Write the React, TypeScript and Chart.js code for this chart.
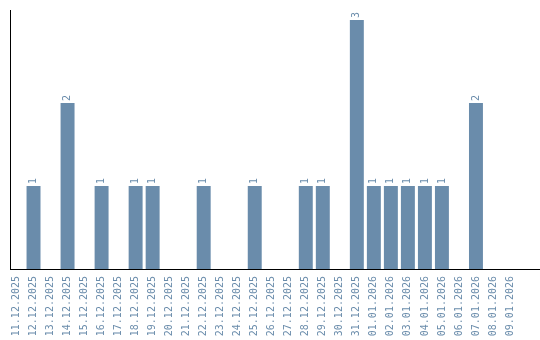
import React, { useEffect, useRef } from "react";
import { Chart, registerables } from "chart.js";

Chart.register(...registerables);

const categories = [
  "11.12.2025", "12.12.2025", "13.12.2025", "14.12.2025", "15.12.2025",
  "16.12.2025", "17.12.2025", "18.12.2025", "19.12.2025", "20.12.2025",
  "21.12.2025", "22.12.2025", "23.12.2025", "24.12.2025", "25.12.2025",
  "26.12.2025", "27.12.2025", "28.12.2025", "29.12.2025", "30.12.2025",
  "31.12.2025", "01.01.2026", "02.01.2026", "03.01.2026", "04.01.2026",
  "05.01.2026", "06.01.2026", "07.01.2026", "08.01.2026", "09.01.2026",
];

const counts = [
  0, 1, 0, 2, 0,
  1, 0, 1, 1, 0,
  0, 1, 0, 0, 1,
  0, 0, 1, 1, 0,
  3, 1, 1, 1, 1,
  1, 0, 2, 0, 0,
];

const BAR_COLOR = "#6a8cab";
const FONT = "'DejaVu Sans Mono', monospace";

const valueLabels = {
  id: "valueLabels",
  afterDatasetsDraw(chart: any) {
    const ctx = chart.ctx;
    const meta = chart.getDatasetMeta(0);
    ctx.save();
    ctx.fillStyle = BAR_COLOR;
    ctx.font = `10px ${FONT}`;
    ctx.textAlign = "left";
    ctx.textBaseline = "middle";
    meta.data.forEach((bar: any, i: number) => {
      const v = counts[i];
      if (!v) return;
      ctx.save();
      ctx.translate(bar.x, bar.y - 2);
      ctx.rotate(-Math.PI / 2);
      ctx.fillText(String(v), 0, 0);
      ctx.restore();
    });
    ctx.restore();
  },
};

const axisLines = {
  id: "axisLines",
  afterDraw(chart: any) {
    const ctx = chart.ctx;
    const { top, bottom } = chart.chartArea;
    ctx.save();
    ctx.fillStyle = "#000";
    ctx.fillRect(10, top, 1, bottom - top + 1);
    ctx.fillRect(10, bottom, chart.width - 10, 1);
    ctx.restore();
  },
};

export default function App() {
  const ref = useRef<HTMLCanvasElement | null>(null);
  useEffect(() => {
    document.body.style.margin = "0";
    const chart = new Chart(ref.current!, {
      type: "bar",
      data: {
        labels: categories,
        datasets: [
          {
            data: counts,
            backgroundColor: BAR_COLOR,
            categoryPercentage: 1,
            barPercentage: 0.82,
          },
        ],
      },
      options: {
        animation: false,
        responsive: false,
        layout: { padding: { left: 8, top: 10, right: 21.5, bottom: 0 } },
        plugins: { legend: { display: false }, tooltip: { enabled: false } },
        scales: {
          x: {
            grid: { display: false, drawTicks: false },
            border: { display: false },
            afterFit(scale: any) {
              scale.height = 71;
            },
            ticks: {
              color: BAR_COLOR,
              font: { family: FONT, size: 10 },
              maxRotation: 90,
              minRotation: 90,
              autoSkip: false,
              padding: 7,
            },
          },
          y: {
            display: false,
            min: 0,
            max: 3.12,
          },
        },
      },
      plugins: [valueLabels, axisLines],
    });
    return () => chart.destroy();
  }, []);
  return <canvas ref={ref} width={540} height={340} style={{ display: "block" }} />;
}
